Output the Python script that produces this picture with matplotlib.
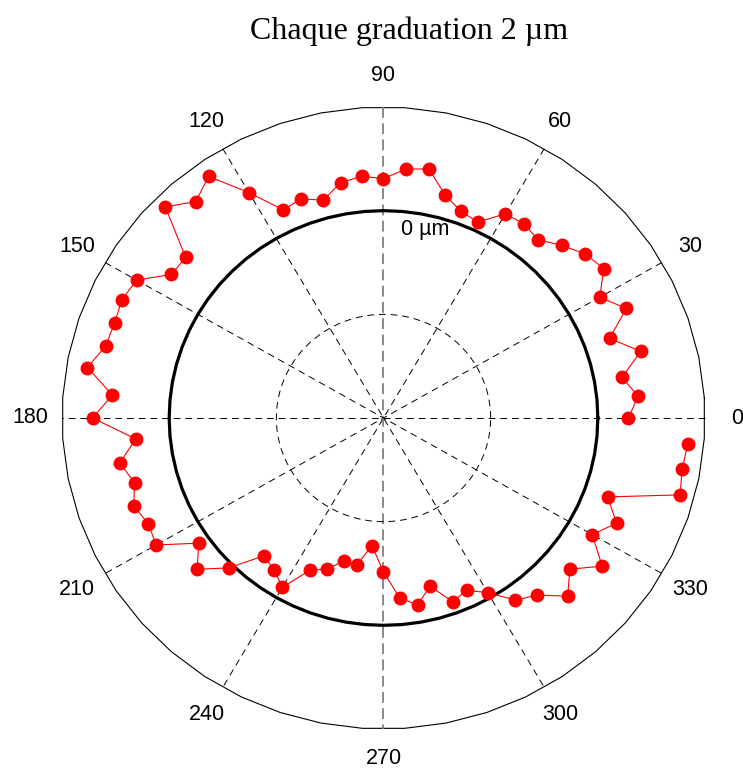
import numpy as np
import matplotlib
matplotlib.use("Agg")
import matplotlib.pyplot as plt

# Radial deviation (µm) measured every 5 degrees, starting at 0°
angles_deg = np.arange(0, 360, 5)
deviation_um = [
    0.57, 0.77, 0.52, 0.97, 0.49, 1.00, 0.66, 1.02, 0.92, 0.71, 0.49, 0.57,
    0.55, 0.17, 0.24, 0.45, 0.88, 0.82, 0.62, 0.68, 0.61, 0.35, 0.50, 0.43,
    1.02, 1.69, 1.45, 1.76, 0.82, 0.83, 1.32, 1.39, 1.34, 1.37, 1.61, 1.08,
    1.43, 0.64, 1.00, 0.81, 0.96, 0.84, 0.90, 0.21, 0.54, 0.09, -0.53, -0.43,
    -0.23, -0.76, -0.90, -1.14, -1.12, -1.53, -1.03, -0.51, -0.34, -0.64, -0.23, -0.33,
    -0.11, 0.29, 0.46, 0.86, 0.54, 0.98, 0.50, 0.80, 0.45, 1.73, 1.66, 1.70,
]

graduation_um = 2.0          # µm per ring
zero_ring = 2                # ring that represents 0 µm
rmax = 3
spoke_angles = np.arange(0, 180, 30)
angle_ticks = np.arange(0, 360, 30)
angle_labels = [str(a) for a in angle_ticks]

W, H = 743, 769
fig = plt.figure(figsize=(W / 100, H / 100), dpi=100)
ax = fig.add_axes([62 / W, 40 / H, 643 / W, 622 / H])
ax.set_xlim(-rmax, rmax)
ax.set_ylim(-rmax, rmax)
ax.axis("off")

# outer frame (polygonal circle)
th = np.deg2rad(3.75 + 7.5 * np.arange(49))
ax.plot(rmax * np.cos(th), rmax * np.sin(th), color="black", lw=0.8, clip_on=False)

# spokes through the centre
for a in spoke_angles:
    c, s = np.cos(np.deg2rad(a)), np.sin(np.deg2rad(a))
    if a == 90:
        ax.plot([0, 0], [rmax, -rmax], color="#808080", lw=1.3,
                ls=(0, (6, 3)), clip_on=False)
    else:
        ax.plot([rmax * c, -rmax * c], [rmax * s, -rmax * s], color="black",
                lw=0.7, ls=(0, (7, 5)), clip_on=False)

# inner dashed ring
th = np.linspace(0, 2 * np.pi, 101)
ax.plot(np.cos(th), np.sin(th), color="black", lw=0.7, ls=(0, (7, 5)))

# zero reference ring
th = np.deg2rad(np.arange(0, 365, 5))
ax.plot(zero_ring * np.cos(th), zero_ring * np.sin(th), color="black", lw=2.3)

# measured profile
r = zero_ring + np.asarray(deviation_um) / graduation_um
t = np.deg2rad(angles_deg)
ax.plot(r * np.cos(t), r * np.sin(t), "-o", color="red", lw=0.8, ms=9,
        mec="red", mfc="red", clip_on=False, zorder=5)

# angle labels
for a, lab in zip(angle_ticks, angle_labels):
    rr = 1.1 * rmax
    x, y = rr * np.cos(np.deg2rad(a)), rr * np.sin(np.deg2rad(a))
    if a == 270:
        # keep the bottom label inside the figure
        ax.annotate(lab, (0, -rmax), xytext=(0, -35), textcoords="offset pixels",
                    ha="center", va="baseline", fontsize=15.5,
                    family="Liberation Sans", annotation_clip=False)
    else:
        ax.text(x, y, lab, ha="center", va="center", fontsize=15.5,
                family="Liberation Sans", clip_on=False)

ax.text(0.16, 1.82, "0 µm", ha="left", va="center", fontsize=15.5,
        family="Liberation Sans")

fig.text(409 / W, 1 - 39 / H, "Chaque graduation 2 µm", ha="center",
         va="baseline", fontsize=23, family="Liberation Serif")

fig.savefig("out.png", dpi=100, facecolor="white")
